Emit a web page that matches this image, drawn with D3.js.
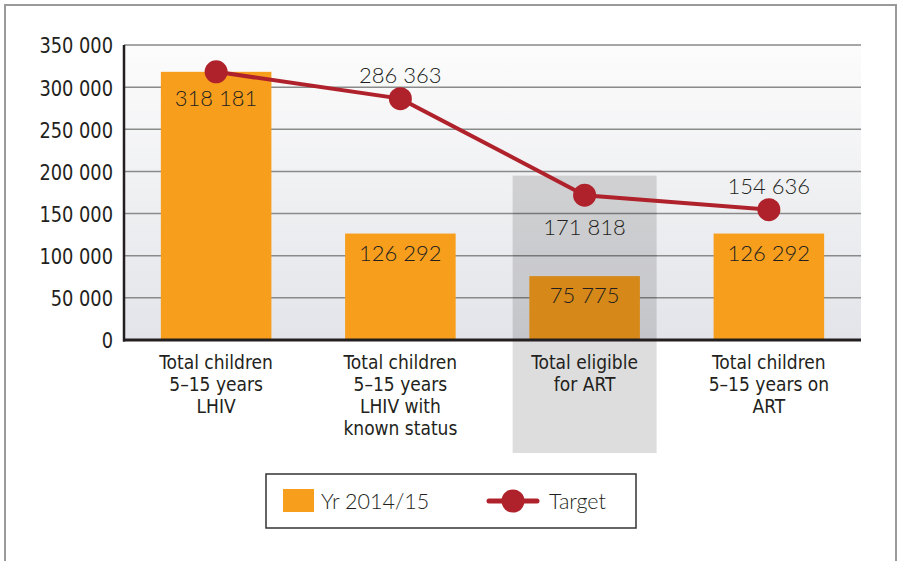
<!DOCTYPE html>
<html>
<head>
<meta charset="utf-8">
<script src="https://cdn.jsdelivr.net/npm/d3@7"></script>
<style>
  html, body { margin: 0; padding: 0; background: #fff; }
  svg { display: block; }
</style>
</head>
<body>
<div id="chart"></div>
<script>
// categories (label lines)
const categories = [
  ['Total children', '5–15 years', 'LHIV'],
  ['Total children', '5–15 years', 'LHIV with', 'known status'],
  ['Total eligible', 'for ART'],
  ['Total children', '5–15 years on', 'ART']
];
// bar series: Yr 2014/15
const barValues = [318181, 126292, 75775, 126292];
// line series: Target
const targetValues = [318181, 286363, 171818, 154636];
// where the target value label sits (null = shared with bar label)
const targetLabelSide = [null, 'above', 'below', 'above'];
const yTicks = [0, 50000, 100000, 150000, 200000, 250000, 300000, 350000];
const highlightIndex = 2;

const width = 897, height = 561;
const margin = { top: 45, right: 36, bottom: 221, left: 124 };
const innerW = width - margin.left - margin.right;
const innerH = height - margin.top - margin.bottom;

const orange = '#f79e1c';
const red = '#b0222b';
const numFont = 'Lato, "Open Sans", sans-serif';
const narrowFont = '"Liberation Sans Narrow", "DejaVu Sans Condensed", sans-serif';

const fmt = v => d3.format(',')(v).replace(/,/g, ' ');

const svg = d3.select('#chart').append('svg')
  .attr('width', width)
  .attr('height', height);

// 外框
svg.append('rect')
  .attr('x', 5).attr('y', 5)
  .attr('width', 891).attr('height', 570)
  .attr('fill', '#fff')
  .attr('stroke', '#9a9a9a')
  .attr('stroke-width', 2);

const defs = svg.append('defs');
const grad = defs.append('linearGradient')
  .attr('id', 'bg-grad')
  .attr('x1', 0).attr('y1', 0).attr('x2', 0).attr('y2', 1);
grad.append('stop').attr('offset', '0%').attr('stop-color', '#fcfcfc');
grad.append('stop').attr('offset', '100%').attr('stop-color', '#e3e4e9');

const g = svg.append('g').attr('transform', `translate(${margin.left},${margin.top})`);

const x = d3.scaleBand()
  .domain(d3.range(categories.length))
  .range([0, innerW])
  .paddingInner(0.4)
  .paddingOuter(0.2);

const xPoint = i => x(i) + x.bandwidth() / 2;

const y = d3.scaleLinear()
  .domain([0, 350000])
  .range([innerH, 0]);

// 背景
g.append('rect')
  .attr('width', innerW)
  .attr('height', innerH)
  .attr('fill', 'url(#bg-grad)');

// 网格线
g.selectAll('.grid')
  .data(yTicks.filter(d => d > 0))
  .enter().append('line')
  .attr('x1', 0).attr('x2', innerW)
  .attr('y1', d => y(d)).attr('y2', d => y(d))
  .attr('stroke', '#8a8a8a')
  .attr('stroke-width', 1.5);

// 柱子
g.selectAll('.bar')
  .data(barValues)
  .enter().append('rect')
  .attr('x', (d, i) => x(i))
  .attr('y', d => y(d))
  .attr('width', x.bandwidth())
  .attr('height', d => innerH - y(d))
  .attr('fill', orange);

// 高亮区
g.append('rect')
  .attr('x', xPoint(highlightIndex) - 72)
  .attr('y', y(195000))
  .attr('width', 144)
  .attr('height', innerH - y(195000) + 113)
  .attr('fill', '#000')
  .attr('fill-opacity', 0.135);

// 坐标轴
const yAxis = g.append('g')
  .call(d3.axisLeft(y).tickValues(yTicks).tickSize(0).tickPadding(0).tickFormat(fmt));
yAxis.select('.domain').remove();
yAxis.selectAll('text')
  .attr('x', 0)
  .attr('font-family', narrowFont)
  .attr('font-size', 22)
  .attr('fill', '#231f20')
  .attr('dy', '0.36em')
  .attr('transform', 'translate(-11,0) scale(0.9,1)');

g.append('line')
  .attr('x1', 0).attr('x2', 0)
  .attr('y1', 0).attr('y2', innerH + 1.5)
  .attr('stroke', '#231f20').attr('stroke-width', 2.5);
g.append('line')
  .attr('x1', -1).attr('x2', innerW)
  .attr('y1', innerH).attr('y2', innerH)
  .attr('stroke', '#231f20').attr('stroke-width', 3);

// 分类标签
categories.forEach((lines, i) => {
  g.selectAll(`.cat-${i}`)
    .data(lines)
    .enter().append('text')
    .attr('x', xPoint(i))
    .attr('y', (d, j) => innerH + 29 + j * 22)
    .attr('text-anchor', 'middle')
    .attr('font-family', narrowFont)
    .attr('font-size', 19)
    .attr('fill', '#231f20')
    .text(d => d);
});

// 目标线
const line = d3.line()
  .x((d, i) => xPoint(i))
  .y(d => y(d));

g.append('path')
  .datum(targetValues)
  .attr('d', line)
  .attr('fill', 'none')
  .attr('stroke', red)
  .attr('stroke-width', 4);

g.selectAll('.dot')
  .data(targetValues)
  .enter().append('circle')
  .attr('cx', (d, i) => xPoint(i))
  .attr('cy', d => y(d))
  .attr('r', 11.5)
  .attr('fill', red);

// 柱子数值
g.selectAll('.bar-label')
  .data(barValues)
  .enter().append('text')
  .attr('x', (d, i) => xPoint(i))
  .attr('y', (d, i) => y(d) + (i === 0 ? 34 : 27))
  .attr('text-anchor', 'middle')
  .attr('font-family', numFont)
  .attr('font-weight', 300)
  .attr('font-size', 22)
  .attr('fill', '#231f20')
  .text(d => fmt(d));

// 目标数值
const targetLabels = targetValues
  .map((v, i) => ({ v, i, side: targetLabelSide[i] }))
  .filter(d => d.side !== null);

g.selectAll('.target-label')
  .data(targetLabels)
  .enter().append('text')
  .attr('x', d => xPoint(d.i))
  .attr('y', d => y(d.v) + (d.side === 'above' ? -16 : 40))
  .attr('text-anchor', 'middle')
  .attr('font-family', numFont)
  .attr('font-weight', 300)
  .attr('font-size', 22)
  .attr('fill', '#231f20')
  .text(d => fmt(d.v));

// 图例
const legend = svg.append('g').attr('transform', 'translate(266,474)');
legend.append('rect')
  .attr('width', 370).attr('height', 54)
  .attr('fill', '#fff')
  .attr('stroke', '#333')
  .attr('stroke-width', 1.5);
legend.append('rect')
  .attr('x', 17).attr('y', 15)
  .attr('width', 31).attr('height', 23)
  .attr('fill', orange);
legend.append('text')
  .attr('x', 55).attr('y', 27)
  .attr('dy', '0.36em')
  .attr('font-family', numFont)
  .attr('font-weight', 300)
  .attr('font-size', 21.5)
  .attr('fill', '#231f20')
  .text('Yr 2014/15');
legend.append('line')
  .attr('x1', 223).attr('x2', 271)
  .attr('y1', 27).attr('y2', 27)
  .attr('stroke', red).attr('stroke-width', 5)
  .attr('stroke-linecap', 'round');
legend.append('circle')
  .attr('cx', 247).attr('cy', 27).attr('r', 11.5)
  .attr('fill', red);
legend.append('text')
  .attr('x', 283).attr('y', 27)
  .attr('dy', '0.36em')
  .attr('font-family', numFont)
  .attr('font-weight', 300)
  .attr('font-size', 21.5)
  .attr('fill', '#231f20')
  .text('Target');
</script>
</body>
</html>
